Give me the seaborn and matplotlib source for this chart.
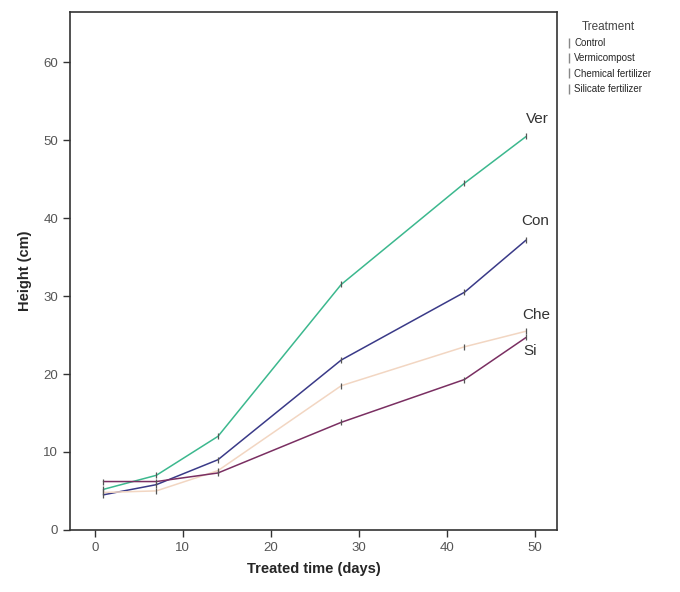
import numpy as np
import pandas as pd
import seaborn as sns
import matplotlib.pyplot as plt

# treated days and mean height (cm) per treatment
days = [1, 7, 14, 28, 42, 49]
control = [4.5, 5.8, 9.0, 21.8, 30.5, 37.2]
vermicompost = [5.2, 7.0, 12.0, 31.5, 44.5, 50.5]
chemical = [4.8, 5.0, 7.6, 18.5, 23.5, 25.5]
silicate = [6.2, 6.2, 7.3, 13.8, 19.3, 24.7]

treatments = ['Control', 'Vermicompost', 'Chemical fertilizer', 'Silicate fertilizer']
short_names = ['Con', 'Ver', 'Che', 'Si']
colors = ['#3a3a88', '#3cb88e', '#f2d6c2', '#7a2f62']

df = pd.DataFrame({
    'day': days * 4,
    'height': control + vermicompost + chemical + silicate,
    'Treatment': [t for t in treatments for _ in days],
})

sns.set_style('white')
plt.rcParams['font.family'] = ['Liberation Sans', 'DejaVu Sans']

fig = plt.figure(figsize=(6.8, 5.92), dpi=100)
ax = fig.add_axes([0.103, 0.105, 0.716, 0.875])

sns.lineplot(data=df, x='day', y='height', hue='Treatment', palette=colors,
             marker='|', markersize=4, markeredgewidth=0.9, linewidth=1.1, ax=ax)
for line in ax.get_lines():
    line.set_markeredgecolor('#555555')

# end-of-line labels (dx, dy from last point)
label_offsets = [(1.0, 2.4), (1.3, 2.2), (1.2, 2.1), (0.4, -1.8)]
for name, vals, (dx, dy) in zip(short_names, [control, vermicompost, chemical, silicate], label_offsets):
    ax.text(days[-1] + dx, vals[-1] + dy, name, fontsize=11, color='#333333',
            ha='center', va='center')

ax.set_xlim(-2.8, 52.5)
ax.set_ylim(0, 66.5)
ax.set_xticks([0, 10, 20, 30, 40, 50])
ax.set_yticks([0, 10, 20, 30, 40, 50, 60])
ax.tick_params(axis='both', direction='out', length=5, width=1, color='#333333',
               labelsize=9.5, labelcolor='#555555', bottom=True, left=True)
for sp in ax.spines.values():
    sp.set_color('#333333')
    sp.set_linewidth(1.2)

ax.set_xlabel('Treated time (days)', fontsize=10.5, fontweight='bold', labelpad=6)
ax.set_ylabel('Height (cm)', fontsize=10.5, fontweight='bold', labelpad=8)

leg = ax.legend(title='Treatment', loc='upper left', bbox_to_anchor=(1.0, 1.0),
                frameon=False, fontsize=7, title_fontsize=8.5, handlelength=0.6,
                handletextpad=0.3, labelspacing=0.55, borderaxespad=0.5)
leg.get_title().set_color('#444444')
for line in leg.get_lines():
    line.set_linewidth(0)
    line.set_marker('|')
    line.set_markersize(7)
    line.set_markeredgewidth(1)
    line.set_markeredgecolor('#888888')

fig.savefig('out.png', dpi=100)
